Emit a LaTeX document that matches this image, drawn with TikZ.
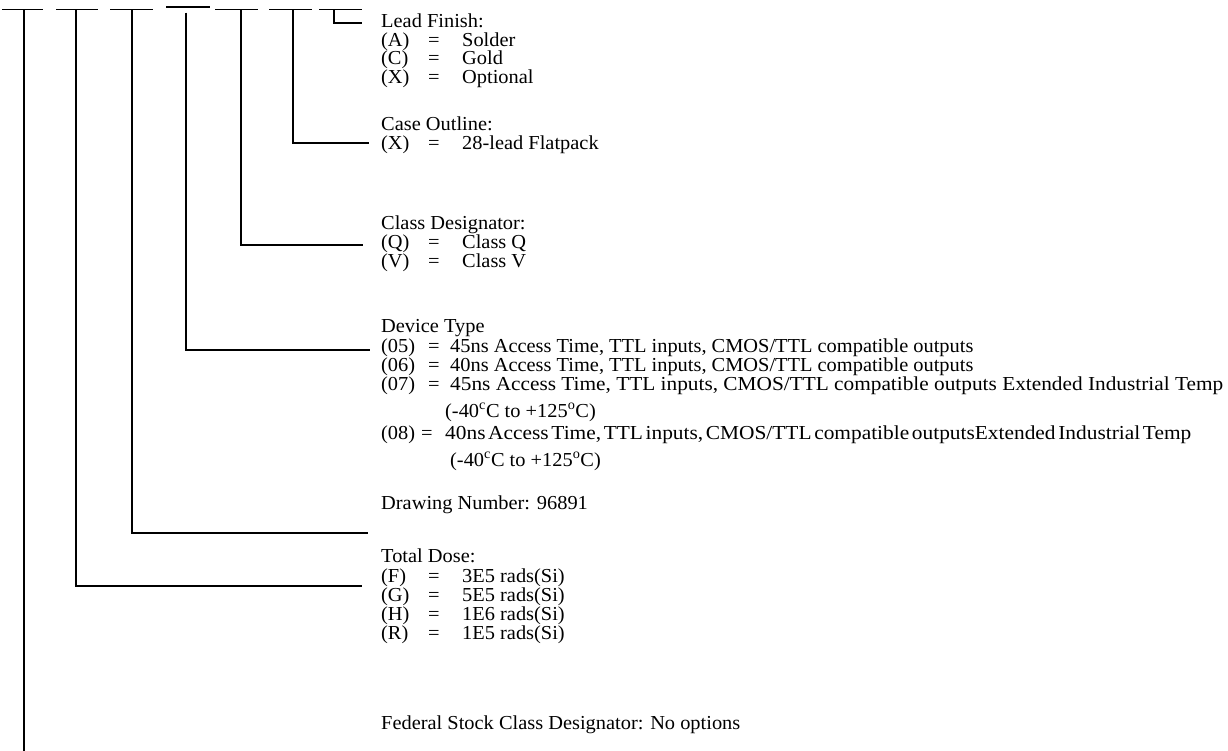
\documentclass[tikz,border=0pt]{standalone}
\usepackage{fontspec}
\setmainfont{Liberation Serif}[FakeStretch=1.03]
\tikzset{
  wire/.style={line width=1.8pt},
  lbl/.style={anchor=base west, inner sep=0pt, text height=14pt, text depth=3.5pt,
              font=\fontsize{19.8}{19}\selectfont},
}
\newcommand{\optrow}[4]{% name, y, key, value
  \node[lbl] (#1k) at (381,#2) {#3};
  \node[lbl] (#1e) at (428,#2) {=};
  \node[lbl] (#1v) at (462,#2) {#4};
}
\newcommand{\devrow}[4]{% name, y, key, value
  \node[lbl] (#1k) at (381,#2) {#3};
  \node[lbl] (#1e) at (428,#2) {=};
  \node[lbl] (#1v) at (450,#2) {#4};
}
\begin{document}
\begin{tikzpicture}[x=1pt,y=-1pt]
\useasboundingbox (0,0) rectangle (1228,751);
% part-number blanks
\coordinate (b1l) at (2,9.5);   \coordinate (b1r) at (43,9.5);
\coordinate (b2l) at (56,9.5);  \coordinate (b2r) at (98,9.5);
\coordinate (b3l) at (110,9.5); \coordinate (b3r) at (153,9.5);
\coordinate (b4l) at (166,7);   \coordinate (b4r) at (210,7);
\coordinate (b5l) at (215,9.5); \coordinate (b5r) at (258,9.5);
\coordinate (b6l) at (269,9.5); \coordinate (b6r) at (312,9.5);
\coordinate (b7l) at (319,9.5); \coordinate (b7r) at (362,9.5);
\foreach \i in {1,...,7} { \draw[wire] (b\i l) -- (b\i r); }
% connector starts
\coordinate (s1) at (24,9.5);
\coordinate (s2) at (76,9.5);
\coordinate (s3) at (132,9.5);
\coordinate (s4) at (186,12.7);
\coordinate (s5) at (241,9.5);
\coordinate (s6) at (293,9.5);
\coordinate (s7) at (334,9.5);
% connector ends
\coordinate (e1) at (24,751);
\coordinate (e2) at (362,586);
\coordinate (e3) at (368,533);
\coordinate (e4) at (370,350);
\coordinate (e5) at (363,245);
\coordinate (e6) at (369,143);
\coordinate (e7) at (362,23);
% texts
\node[lbl] (lf) at (381,28) {Lead Finish:};
\optrow{lfa}{46.5}{(A)}{Solder}
\optrow{lfc}{65}{(C)}{Gold}
\optrow{lfx}{83.5}{(X)}{Optional}
\node[lbl] (co) at (381,130.5) {Case Outline:};
\optrow{cox}{149.5}{(X)}{28-lead Flatpack}
\node[lbl] (cd) at (381,230) {Class Designator:};
\optrow{cdq}{249}{(Q)}{Class Q}
\optrow{cdv}{268}{(V)}{Class V}
\node[lbl] (dt) at (381,332) {Device Type};
\devrow{d5}{352}{(05)}{45ns Access Time, TTL inputs, CMOS/TTL compatible outputs}
\devrow{d6}{371}{(06)}{40ns Access Time, TTL inputs, CMOS/TTL compatible outputs}
\devrow{d7}{390}{(07)}{\resizebox{773pt}{\height}{45ns Access Time, TTL inputs, CMOS/TTL compatible outputs Extended Industrial Temp}}
\node[lbl] (t7) at (445,417) {(-40\textsuperscript{c}C to +125\textsuperscript{o}C)};
\node[lbl] (d8k) at (381,439) {(08)};
\node[lbl] (d8e) at (421,439) {=};
\node[lbl] (d8v) at (445,439) {\resizebox{746pt}{\height}{\spaceskip=2.5pt 40ns Access Time, TTL inputs, CMOS/TTL compatible outputsExtended Industrial Temp}};
\node[lbl] (t8) at (450,466) {(-40\textsuperscript{c}C to +125\textsuperscript{o}C)};
\node[lbl] (dn) at (381,509) {Drawing Number: 96891};
\node[lbl] (td) at (381,562) {Total Dose:};
\optrow{tdf}{582}{(F)}{3E5 rads(Si)}
\optrow{tdg}{601}{(G)}{5E5 rads(Si)}
\optrow{tdh}{620}{(H)}{1E6 rads(Si)}
\optrow{tdr}{639}{(R)}{1E5 rads(Si)}
\node[lbl] (fs) at (381,729) {Federal Stock Class Designator: No options};
% connectors
\draw[wire] (s1) -- (e1);
\draw[wire] (s2) |- (e2);
\draw[wire] (s3) |- (e3);
\draw[wire] (s4) |- (e4);
\draw[wire] (s5) |- (e5);
\draw[wire] (s6) |- (e6);
\draw[wire] (s7) |- (e7);
\end{tikzpicture}
\end{document}
